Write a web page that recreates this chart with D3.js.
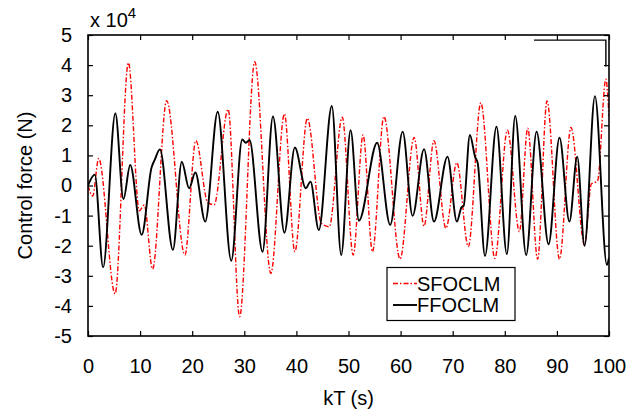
<!DOCTYPE html>
<html>
<head>
<meta charset="utf-8">
<script src="https://cdn.jsdelivr.net/npm/d3@7"></script>
<style>
  html, body { margin: 0; padding: 0; background: #fff; }
  svg { display: block; font-family: "Liberation Sans", Arial, sans-serif; }
</style>
</head>
<body>
<svg id="chart" width="628" height="413"></svg>
<script>
// ---- data (force in units of 1e4 N) ----
const xTicks = [0, 10, 20, 30, 40, 50, 60, 70, 80, 90, 100];
const yTicks = [-5, -4, -3, -2, -1, 0, 1, 2, 3, 4, 5];
const seriesNames = ["SFOCLM", "FFOCLM"];

const ffoclmT = [0, 1.3, 2.9, 5.25, 6.8, 8.1, 10.3, 12.2, 12.8, 13.8, 16.3, 18.0, 19.4, 20.6, 22.5, 24.9, 27.5,
  29.6, 30.3, 31.0, 33.5, 35.5, 37.7, 39.7, 41.8, 42.7, 44.3, 46.8, 48.6, 50.4, 52.0, 55.5, 58.0, 60.4,
  62.3, 64.5, 66.4, 69.0, 70.8, 71.7, 72.1, 73.3, 74.3, 74.8, 76.2, 78.4, 80.4, 82.0, 84.1, 86.1, 88.4,
  90.5, 92.4, 93.9, 95.3, 97.3, 99.6, 100];
const ffoclmF = [0, 0.36, -2.72, 2.40, -0.45, 0.68, -1.64, 0.6, 0.85, 1.2, -2.14, 0.79, -0.09, 0.43, -1.2, 2.45, -2.5,
  1.53, 1.42, 1.51, -2.2, 2.29, -1.57, 1.26, -0.09, 0.13, -1.48, 2.64, -2.31, 1.84, -1.17, 1.42, -1.31, 1.79,
  -1.01, 1.21, -1.2, 0.96, -1.2, -0.72, -0.68, 1.68, 0.95, 0.75, -2.34, 1.95, -2.28, 2.31, -2.31, 1.79, -1.95,
  1.59, -1.2, 0.96, -2.0, 2.97, -2.64, -2.4];

const sfoclmT = [0, 0.9, 2.05, 5.2, 7.75, 9.85, 10.8, 12.4, 15.1, 18.6, 20.7, 23.0, 24.2, 26.9, 29.1, 32.0, 35.1,
  37.7, 39.7, 42.1, 44.8, 46.3, 48.8, 50.9, 52.8, 54.6, 56.8, 59.9, 62.6, 64.5, 66.4, 68.7, 70.8, 73.0,
  75.4, 78.1, 80.5, 82.8, 84.4, 86.3, 88.1, 90.5, 92.7, 95.3, 96.6, 97.8, 99.4, 100];
const sfoclmF = [0, -0.35, 0.9, -3.6, 4.08, -0.84, -0.65, -2.78, 2.82, -2.31, 1.49, -0.57, -0.64, 2.53, -4.36, 4.11, -2.92,
  2.38, -2.2, 2.23, -1.26, -1.37, 2.27, -2.31, 1.68, -2.2, 2.29, -2.44, 1.6, -1.35, 1.49, -1.42, 0.76, -2.03,
  2.75, -2.42, 1.84, -1.53, 1.9, -2.45, 2.81, -2.45, 1.93, -1.98, 0.05, 0.15, 3.53, 2.3];

// ---- layout ----
const svg = d3.select("#chart");
const L = 88, R = 609, T = 35, B = 336;
const x = d3.scaleLinear().domain([0, 100]).range([L, R]);
const y = d3.scaleLinear().domain([-5, 5]).range([B, T]);
const tickLen = 5;
const fontTick = 20;

const line = d3.line().x(d => x(d[0])).y(d => y(d[1])).curve(d3.curveMonotoneX);
const sfoclm = sfoclmT.map((t, i) => [t, sfoclmF[i]]);
const ffoclm = ffoclmT.map((t, i) => [t, ffoclmF[i]]);

const clipId = "plotclip";
svg.append("clipPath").attr("id", clipId).append("rect")
  .attr("x", L).attr("y", T).attr("width", R - L).attr("height", B - T);

const plot = svg.append("g").attr("clip-path", `url(#${clipId})`);
plot.append("path").datum(sfoclm).attr("d", line)
  .attr("fill", "none").attr("stroke", "#ff0000").attr("stroke-width", 1.4)
  .attr("stroke-dasharray", "5,2,1.5,2");
plot.append("path").datum(ffoclm).attr("d", line)
  .attr("fill", "none").attr("stroke", "#000").attr("stroke-width", 1.9);

// top-right corner stroke present in the original figure
plot.append("path")
  .attr("d", `M${x(85.6)},${y(4.83)}H${x(99.4)}V${y(3.95)}`)
  .attr("fill", "none").attr("stroke", "#000").attr("stroke-width", 1.4);

// ---- axes (ticks inside, on all four sides) ----
const plain = d => String(d);
const axB = d3.axisBottom(x).tickValues(xTicks).tickSize(-tickLen).tickPadding(23).tickFormat(plain);
const axT = d3.axisTop(x).tickValues(xTicks).tickSize(-tickLen).tickFormat("");
const axL = d3.axisLeft(y).tickValues(yTicks).tickSize(-tickLen).tickPadding(16).tickFormat(plain);
const axR = d3.axisRight(y).tickValues(yTicks).tickSize(-tickLen).tickFormat("");

function styleAxis(g) {
  g.select(".domain").remove();
  g.selectAll(".tick line").attr("stroke", "#000").attr("stroke-width", 1.2);
  g.selectAll(".tick text").attr("fill", "#000").style("font-size", fontTick + "px")
    .style("font-family", '"Liberation Sans", Arial, sans-serif');
}
svg.append("g").attr("transform", `translate(0,${B})`).call(axB).call(styleAxis);
svg.append("g").attr("transform", `translate(0,${T})`).call(axT).call(styleAxis);
svg.append("g").attr("transform", `translate(${L},0)`).call(axL).call(styleAxis);
svg.append("g").attr("transform", `translate(${R},0)`).call(axR).call(styleAxis);

svg.append("rect").attr("x", L).attr("y", T).attr("width", R - L).attr("height", B - T)
  .attr("fill", "none").attr("stroke", "#000").attr("stroke-width", 1.6);

// ---- titles ----
svg.append("text").attr("x", (L + R) / 2).attr("y", 405).attr("text-anchor", "middle")
  .style("font-size", "20px").text("kT (s)");
svg.append("text").attr("transform", `translate(32,${(T + B) / 2}) rotate(-90)`)
  .attr("text-anchor", "middle").style("font-size", "20px").text("Control force (N)");
const mult = svg.append("text").attr("x", 90).attr("y", 27).style("font-size", "20px");
mult.append("tspan").text("x 10");
mult.append("tspan").attr("dy", -9).style("font-size", "15px").text("4");

// ---- legend ----
const lg = svg.append("g");
lg.append("rect").attr("x", 387).attr("y", 267.5).attr("width", 128).attr("height", 53)
  .attr("fill", "#fff").attr("stroke", "#000").attr("stroke-width", 1.2);
const legendStyles = [
  { color: "#ff0000", width: 1.4, dash: "5,2,1.5,2" },
  { color: "#000", width: 1.9, dash: null }
];
seriesNames.forEach((name, i) => {
  const yy = 283.5 + i * 21.5;
  lg.append("line").attr("x1", 393).attr("x2", 417).attr("y1", yy).attr("y2", yy)
    .attr("stroke", legendStyles[i].color).attr("stroke-width", legendStyles[i].width)
    .attr("stroke-dasharray", legendStyles[i].dash);
  lg.append("text").attr("x", 417).attr("y", yy + 7).style("font-size", "20px").text(name);
});
</script>
</body>
</html>
